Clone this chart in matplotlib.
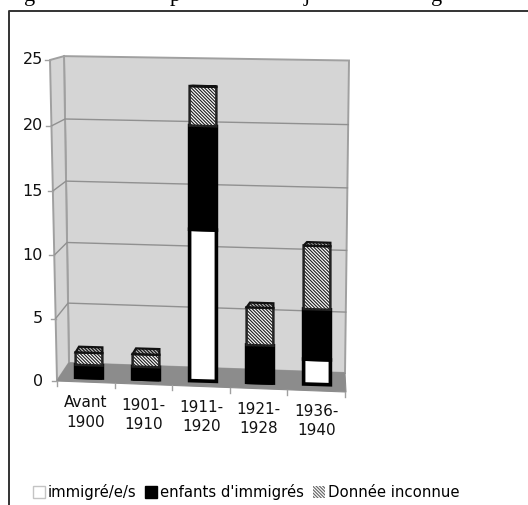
"""Stacked pseudo-3D bars: immigre/e/s and children of immigrants per period."""
import matplotlib
matplotlib.use('Agg')
import matplotlib.pyplot as plt
import numpy as np
from matplotlib.lines import Line2D
from matplotlib.patches import Patch, Polygon
from matplotlib.transforms import Affine2D

W, H = 528, 505

categories = ['Avant\n1900', '1901-\n1910', '1911-\n1920', '1921-\n1928', '1936-\n1940']
immigres = [0, 0, 12, 0, 2]
enfants = [1, 1, 8, 3, 4]
inconnue = [1, 1, 3, 3, 5]
y_ticks = [0, 5, 10, 15, 20, 25]
series_names = ['immigré/e/s', "enfants d'immigrés", 'Donnée inconnue']

HATCH = '\\' * 10

plt.rcParams['font.family'] = ['DejaVu Sans']
plt.rcParams['hatch.linewidth'] = 0.85
plt.rcParams['hatch.color'] = 'black'

fig = plt.figure(figsize=(W / 100, H / 100), dpi=100, facecolor='white')


def rect(left, top, right, bottom):
    return [left / W, 1 - bottom / H, (right - left) / W, (bottom - top) / H]


# the fake perspective stretches the value axis a little towards the top
def front_y(v):
    return 381 - 12.4 * v - 0.0176 * v ** 2


def back_y(v):
    return 363 - 11.9 * v - 0.015 * v ** 2


def right_y(v):
    return 373 - 12.1 * v - 0.016 * v ** 2


def value_to_px(v):
    v = np.asarray(v, dtype=float)
    return 12.4 * v + 0.0176 * v ** 2


def px_to_value(p):
    p = np.asarray(p, dtype=float)
    return (-12.4 + np.sqrt(np.maximum(12.4 ** 2 + 4 * 0.0176 * p, 0))) / (2 * 0.0176)


# full-figure axes in pixels for the painted walls, floor and frame
bg = fig.add_axes([0, 0, 1, 1])
bg.set_xlim(0, W)
bg.set_ylim(H, 0)
bg.axis('off')

wall_edge = '#a0a0a0'
bg.add_patch(Polygon([(69, back_y(0)), (64, back_y(25)), (349, right_y(25)), (345, right_y(0))],
                     facecolor='#d5d5d5', edgecolor=wall_edge, lw=1.4))
bg.add_patch(Polygon([(57, front_y(0)), (50, front_y(25)), (64, back_y(25)), (69, back_y(0))],
                     facecolor='#d5d5d5', edgecolor=wall_edge, lw=1.4))
bg.add_patch(Polygon([(57, 381), (69, 363), (345, 373), (346, 392)],
                     facecolor='#8c8c8c', edgecolor='#8c8c8c', lw=0.8))

for v in y_ticks[1:-1]:
    f = v / 25
    x_front = 57 - f * 7
    x_back = 69 - f * 5
    bg.plot([x_front, x_back, 345 + f * 4], [front_y(v), back_y(v), right_y(v)],
            color='#909090', lw=1.0)
for v in y_ticks:
    f = v / 25
    x_front = 57 - f * 7
    bg.plot([x_front - 5, x_front], [front_y(v), front_y(v)], color='#a0a0a0', lw=1.0)
    bg.text(43, front_y(v), str(v), ha='right', va='center', fontsize=11.5, color='#111111')

# category ticks and labels along the front edge of the floor
for i, label in enumerate(categories):
    x_tick = 57 + 57.6 * i
    y_tick = 381 + 2.2 * i
    bg.plot([x_tick, x_tick], [y_tick, y_tick + 5], color='#a0a0a0', lw=1.0)
    bg.text(x_tick + 29, y_tick + 31.5, label, ha='center', va='center', fontsize=11,
            linespacing=1.35, color='#111111')
bg.plot([345, 345], [392, 397], color='#a0a0a0', lw=1.0)

# outer frame is open on the right and at the bottom, as in the crop
bg.add_line(Line2D([9, 9, W], [H, 11, 11], color='#333333', lw=1.4))

# descenders of the clipped caption above the frame
for x_pos, letter in zip([30, 175, 307, 437], 'gpjg'):
    bg.text(x_pos, 0.5, letter, ha='center', va='baseline', fontsize=16,
            family='Liberation Serif', color='black')

# data axes: value axis follows the same stretch as the front edge
ax = fig.add_axes(rect(60.5, front_y(25), 345.5, 381))
ax.set_xlim(-0.5, 4.5)
ax.set_yscale('function', functions=(value_to_px, px_to_value))
ax.set_ylim(0, 25)
ax.axis('off')
ax.patch.set_alpha(0)

# the bars stand on a floor that falls slightly to the right
shear = Affine2D.from_values(1, -0.136, 0, 1, 0, 0.272) + ax.transData

x = np.arange(len(categories))
width = 0.47
imm = np.array(immigres)
enf = np.array(enfants)
inc = np.array(inconnue)
total = imm + enf + inc

ax.bar(x, imm, width, color='white', edgecolor='black', lw=2.6, transform=shear,
       clip_on=False, zorder=3)
ax.bar(x, enf, width, bottom=imm, color='black', edgecolor='black', lw=2.6, transform=shear,
       clip_on=False, zorder=3)
ax.bar(x, inc, width, bottom=imm + enf, color='white', edgecolor='#222222', lw=1.8,
       hatch=HATCH, transform=shear, clip_on=False, zorder=3)

# top face of each column, taller where the column is short
for xi, top in zip(x, total):
    depth = (1 - top / 25) * 0.5
    face = Polygon([(xi - width / 2, top), (xi - width / 2 + 0.06, top + depth),
                    (xi + width / 2, top + depth), (xi + width / 2, top)],
                   facecolor='#bbbbbb', edgecolor='#111111', lw=1.6, hatch=HATCH,
                   transform=shear, clip_on=False, zorder=4)
    ax.add_patch(face)

handles = [
    Patch(facecolor='white', edgecolor='#c4c4c4', lw=1.0),
    Patch(facecolor='black', edgecolor='black', lw=1.0),
    Patch(facecolor='white', edgecolor='#666666', lw=0.0, hatch=HATCH),
]
fig.legend(handles, series_names, ncol=3, frameon=False, fontsize=10.7,
           loc='center left', bbox_to_anchor=(33 / W, 1 - 492 / H),
           handlelength=0.8, handleheight=0.85, handletextpad=0.2, columnspacing=0.6,
           borderpad=0, borderaxespad=0)

fig.savefig('out.png', dpi=100, facecolor='white')
